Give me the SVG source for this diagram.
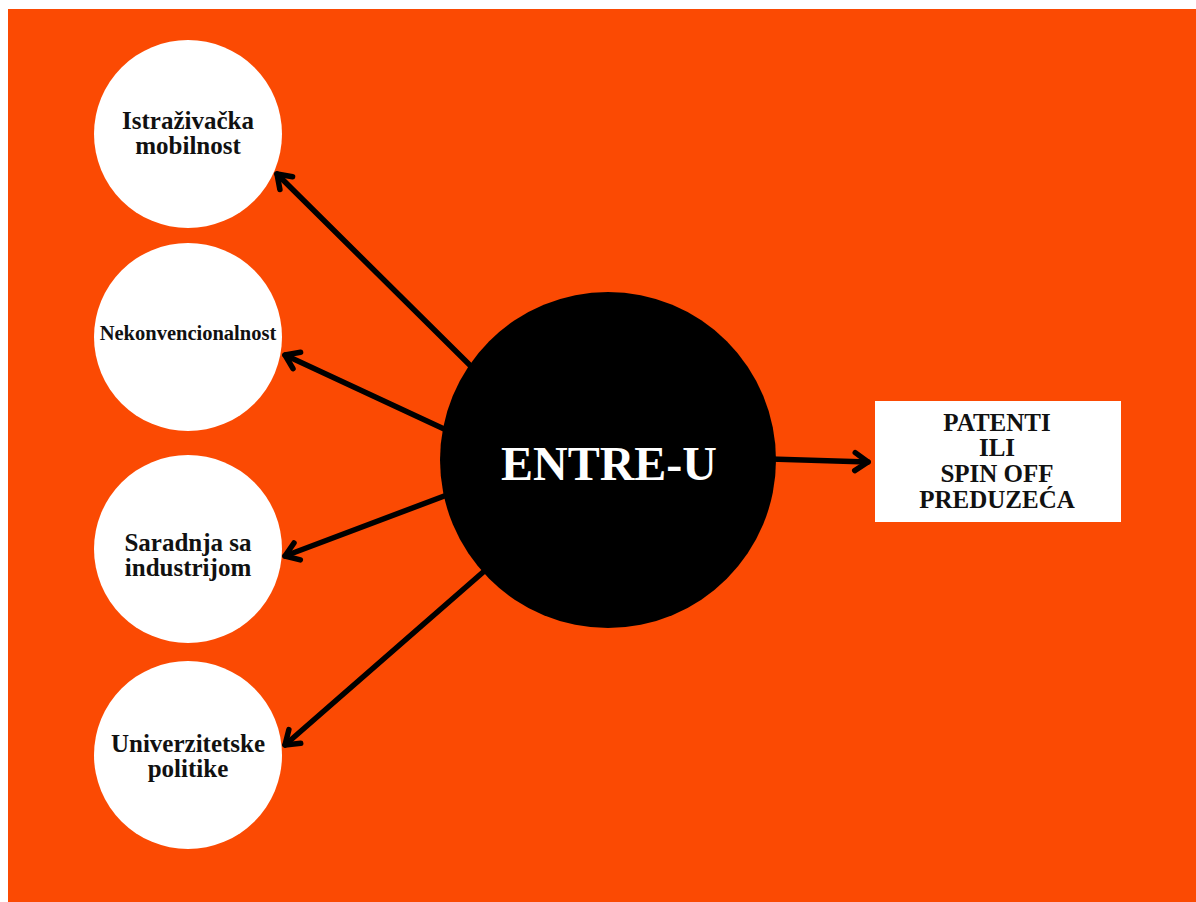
<svg xmlns="http://www.w3.org/2000/svg" width="1196" height="902" viewBox="0 0 1196 902">
  <style>
    .bubble { fill: #ffffff; }
    .lbl { font-family: "Liberation Serif", "Times New Roman", serif; font-weight: bold; font-size: 25px; fill: #111111; text-anchor: middle; }
    .conn { stroke: #000000; stroke-width: 5.5; fill: none; stroke-linecap: round; }
  </style>
  <defs>
    <marker id="chev" markerUnits="userSpaceOnUse" markerWidth="40" markerHeight="40" refX="0" refY="0" orient="auto" overflow="visible" viewBox="-20 -20 40 40">
      <path d="M-13,-9 L0,0 L-13,9" fill="none" stroke="#000000" stroke-width="5.5" stroke-linecap="round" stroke-linejoin="round"/>
    </marker>
  </defs>
  <rect x="0" y="0" width="1196" height="902" fill="#ffffff"/>
  <rect id="background" x="8" y="9" width="1188" height="893" fill="#FB4A03"/>

  <g id="connectors">
    <line class="conn" x1="500" y1="395" x2="277" y2="174" marker-end="url(#chev)"/>
    <line class="conn" x1="500" y1="455" x2="285" y2="355" marker-end="url(#chev)"/>
    <line class="conn" x1="500" y1="475" x2="285" y2="556" marker-end="url(#chev)"/>
    <line class="conn" x1="520" y1="540" x2="285" y2="745" marker-end="url(#chev)"/>
    <line class="conn" x1="700" y1="457" x2="868" y2="462" marker-end="url(#chev)"/>
  </g>

  <g id="node-istrazivacka">
    <circle class="bubble" cx="188" cy="134" r="94"/>
    <text class="lbl" x="188" y="129">Istraživačka</text>
    <text class="lbl" x="188" y="154">mobilnost</text>
  </g>
  <g id="node-nekonvencionalnost">
    <circle class="bubble" cx="188" cy="337" r="94"/>
    <text class="lbl" x="188" y="340" style="font-size:20.5px">Nekonvencionalnost</text>
  </g>
  <g id="node-saradnja">
    <circle class="bubble" cx="188" cy="549" r="94"/>
    <text class="lbl" x="188" y="551">Saradnja sa</text>
    <text class="lbl" x="188" y="576">industrijom</text>
  </g>
  <g id="node-univerzitetske">
    <circle class="bubble" cx="188" cy="755" r="94"/>
    <text class="lbl" x="188" y="752">Univerzitetske</text>
    <text class="lbl" x="188" y="777">politike</text>
  </g>

  <g id="node-entre-u">
    <circle cx="608" cy="460" r="168" fill="#000000"/>
    <text x="609" y="480" style="font-family:'Liberation Serif','Times New Roman',serif;font-weight:bold;font-size:48px;fill:#ffffff;text-anchor:middle">ENTRE-U</text>
  </g>

  <g id="node-patenti">
    <rect x="875" y="401" width="246" height="121" fill="#ffffff"/>
    <text class="lbl" x="997" y="431">PATENTI</text>
    <text class="lbl" x="997" y="456">ILI</text>
    <text class="lbl" x="997" y="482">SPIN OFF</text>
    <text class="lbl" x="997" y="508">PREDUZEĆA</text>
  </g>
</svg>
